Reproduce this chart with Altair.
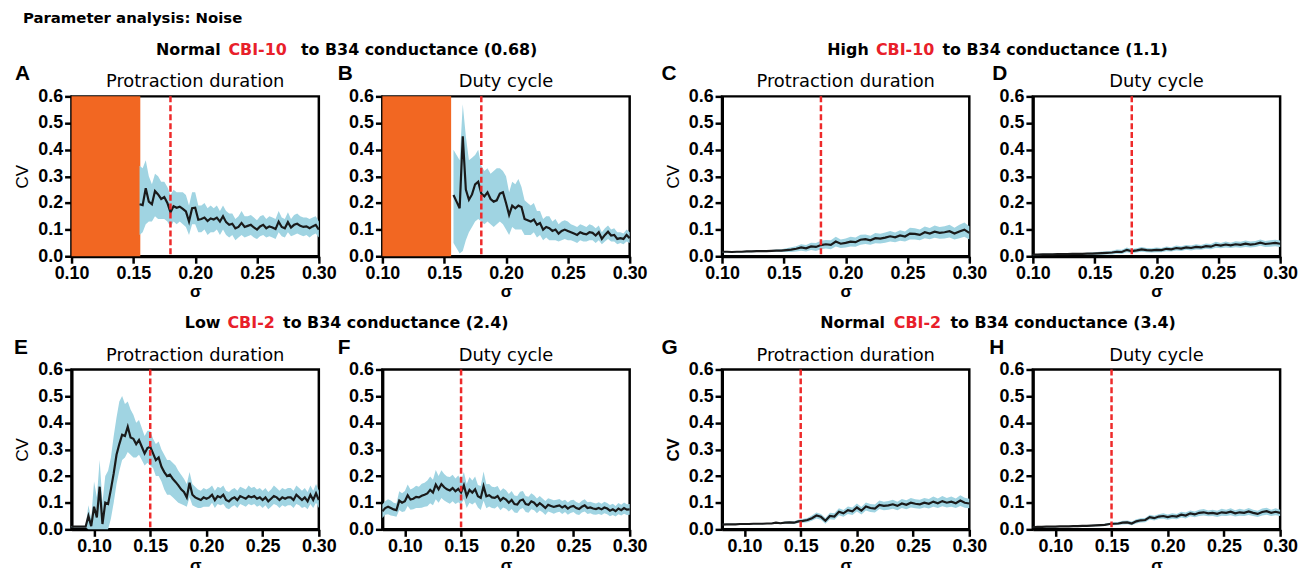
import altair as alt
import pandas as pd

# ------------------------------------------------------------------ data
MAIN_TITLE = "Parameter analysis: Noise"
GROUP_TITLES = [
    ["Normal", "CBI-10", "to B34 conductance (0.68)"],
    ["High", "CBI-10", "to B34 conductance (1.1)"],
    ["Low", "CBI-2", "to B34 conductance (2.4)"],
    ["Normal", "CBI-2", "to B34 conductance (3.4)"],
]
LETTERS = ["A", "B", "C", "D", "E", "F", "G", "H"]
SUBTITLES = ["Protraction duration", "Duty cycle"] * 4
Y_TITLES = ["CV", "", "CV", "", "CV", "", "CV", ""]
X_TITLE = "σ"
X_TICKS = [0.10, 0.15, 0.20, 0.25, 0.30]
Y_TICKS = [0.0, 0.1, 0.2, 0.3, 0.4, 0.5, 0.6]
X_DOMAINS = [[0.10, 0.30]] * 4 + [[0.08, 0.30]] * 4
THRESHOLDS = [0.18, 0.18, 0.18, 0.18, 0.15, 0.15, 0.15, 0.15]
NO_RHYTHM_END = [0.1556, 0.1556]  # orange region (A, B) from 0.10

# sigma grid (start, step) per panel
A_X0, A_STEP = 0.155, 0.0025
B_X0, B_STEP = 0.1575, 0.0025
C_X0, C_STEP = 0.10, 0.004
D_X0, D_STEP = 0.10, 0.004
E_X0, E_STEP = 0.08, 0.0025
F_X0, F_STEP = 0.08, 0.0025
G_X0, G_STEP = 0.08, 0.004
H_X0, H_STEP = 0.08, 0.004

A_MEAN = [0.195, 0.192, 0.255, 0.205, 0.195, 0.245, 0.232, 0.215, 0.222, 0.200,
          0.165, 0.188, 0.182, 0.186, 0.178, 0.168, 0.130, 0.180, 0.182, 0.137,
          0.140, 0.145, 0.132, 0.142, 0.138, 0.145, 0.130, 0.150, 0.128, 0.118,
          0.122, 0.105, 0.110, 0.125, 0.110, 0.114, 0.118, 0.108, 0.100, 0.112,
          0.118, 0.105, 0.112, 0.108, 0.102, 0.130, 0.110, 0.105, 0.128, 0.108,
          0.118, 0.122, 0.114, 0.110, 0.112, 0.105, 0.112, 0.118, 0.100]
A_LO = [0.08, 0.09, 0.12, 0.13, 0.13, 0.15, 0.14, 0.14, 0.14, 0.13,
        0.11, 0.13, 0.12, 0.13, 0.12, 0.11, 0.08, 0.12, 0.12, 0.09,
        0.09, 0.10, 0.08, 0.09, 0.09, 0.10, 0.08, 0.10, 0.08, 0.07,
        0.08, 0.06, 0.07, 0.08, 0.07, 0.075, 0.08, 0.07, 0.065, 0.075,
        0.08, 0.07, 0.075, 0.07, 0.065, 0.09, 0.075, 0.07, 0.09, 0.075,
        0.08, 0.085, 0.08, 0.075, 0.08, 0.07, 0.08, 0.085, 0.07]
A_HI = [0.34, 0.33, 0.36, 0.30, 0.27, 0.31, 0.30, 0.28, 0.28, 0.26,
        0.23, 0.25, 0.24, 0.24, 0.24, 0.23, 0.19, 0.24, 0.24, 0.19,
        0.19, 0.20, 0.18, 0.19, 0.18, 0.19, 0.17, 0.19, 0.17, 0.16,
        0.16, 0.14, 0.15, 0.17, 0.15, 0.15, 0.155, 0.145, 0.135, 0.15,
        0.155, 0.14, 0.15, 0.145, 0.14, 0.17, 0.145, 0.14, 0.165, 0.14,
        0.155, 0.16, 0.15, 0.145, 0.145, 0.14, 0.145, 0.15, 0.13]

B_MEAN = [0.230, 0.205, 0.180, 0.450, 0.250, 0.212, 0.232, 0.270, 0.280, 0.235,
          0.225, 0.240, 0.215, 0.205, 0.210, 0.235, 0.240, 0.200, 0.155, 0.190,
          0.180, 0.190, 0.185, 0.140, 0.135, 0.130, 0.138, 0.118, 0.125, 0.100,
          0.110, 0.105, 0.095, 0.100, 0.085, 0.095, 0.100, 0.095, 0.090, 0.085,
          0.080, 0.090, 0.085, 0.082, 0.090, 0.088, 0.078, 0.090, 0.065, 0.080,
          0.092, 0.078, 0.080, 0.065, 0.068, 0.065, 0.080, 0.068]
B_LO = [0.05, 0.03, 0.01, 0.02, 0.06, 0.09, 0.11, 0.13, 0.14, 0.13,
        0.12, 0.13, 0.12, 0.11, 0.12, 0.13, 0.12, 0.10, 0.08, 0.11,
        0.10, 0.10, 0.10, 0.08, 0.08, 0.08, 0.09, 0.07, 0.08, 0.06,
        0.07, 0.06, 0.06, 0.06, 0.055, 0.06, 0.065, 0.06, 0.06, 0.055,
        0.05, 0.06, 0.055, 0.055, 0.06, 0.06, 0.05, 0.06, 0.045, 0.055,
        0.065, 0.055, 0.055, 0.045, 0.05, 0.045, 0.055, 0.05]
B_HI = [0.40, 0.38, 0.36, 0.57, 0.45, 0.36, 0.37, 0.38, 0.40, 0.34,
        0.32, 0.33, 0.31, 0.32, 0.33, 0.33, 0.32, 0.30, 0.24, 0.28,
        0.27, 0.29, 0.26, 0.21, 0.20, 0.19, 0.20, 0.17, 0.17, 0.14,
        0.15, 0.15, 0.13, 0.14, 0.12, 0.13, 0.135, 0.13, 0.12, 0.115,
        0.11, 0.12, 0.115, 0.11, 0.12, 0.115, 0.105, 0.115, 0.09, 0.105,
        0.115, 0.10, 0.105, 0.09, 0.09, 0.085, 0.10, 0.09]

C_MEAN = [0.017, 0.017, 0.016, 0.017, 0.017, 0.018, 0.018, 0.019, 0.019, 0.019,
          0.020, 0.021, 0.021, 0.023, 0.025, 0.028, 0.033, 0.030, 0.037, 0.035,
          0.042, 0.045, 0.043, 0.055, 0.047, 0.050, 0.055, 0.053, 0.062, 0.064,
          0.060, 0.068, 0.066, 0.070, 0.075, 0.071, 0.078, 0.074, 0.085, 0.084,
          0.080, 0.090, 0.085, 0.092, 0.088, 0.090, 0.094, 0.085, 0.093, 0.100,
          0.088]
C_HW = [0.003, 0.003, 0.003, 0.003, 0.003, 0.003, 0.003, 0.003, 0.003, 0.003,
        0.003, 0.004, 0.005, 0.007, 0.009, 0.010, 0.012, 0.012, 0.014, 0.015,
        0.016, 0.016, 0.017, 0.018, 0.016, 0.017, 0.018, 0.017, 0.019, 0.018,
        0.017, 0.019, 0.018, 0.019, 0.020, 0.018, 0.020, 0.019, 0.022, 0.021,
        0.020, 0.022, 0.021, 0.023, 0.022, 0.023, 0.024, 0.022, 0.025, 0.027,
        0.025]

D_MEAN = [0.006, 0.006, 0.007, 0.007, 0.007, 0.008, 0.008, 0.008, 0.009, 0.009,
          0.009, 0.010, 0.010, 0.011, 0.012, 0.013, 0.014, 0.017, 0.016, 0.024,
          0.019, 0.022, 0.026, 0.023, 0.022, 0.024, 0.023, 0.028, 0.026, 0.031,
          0.029, 0.033, 0.031, 0.035, 0.033, 0.038, 0.036, 0.043, 0.040, 0.044,
          0.041, 0.045, 0.043, 0.047, 0.044, 0.046, 0.051, 0.046, 0.048, 0.050,
          0.047]
D_HW = [0.002, 0.002, 0.002, 0.002, 0.002, 0.002, 0.002, 0.002, 0.002, 0.002,
        0.002, 0.003, 0.004, 0.005, 0.006, 0.006, 0.007, 0.008, 0.008, 0.009,
        0.008, 0.008, 0.009, 0.008, 0.008, 0.009, 0.008, 0.009, 0.008, 0.009,
        0.009, 0.009, 0.009, 0.010, 0.009, 0.010, 0.010, 0.011, 0.010, 0.011,
        0.010, 0.011, 0.011, 0.012, 0.011, 0.011, 0.012, 0.011, 0.012, 0.012,
        0.012]

E_MEAN = [0.010, 0.010, 0.010, 0.010, 0.010, 0.010, 0.050, 0.012, 0.085, 0.045,
          0.160, 0.020, 0.100, 0.095, 0.150, 0.210, 0.280, 0.320, 0.355, 0.350,
          0.385, 0.345, 0.340, 0.320, 0.335, 0.310, 0.285, 0.305, 0.310, 0.285,
          0.260, 0.270, 0.235, 0.215, 0.200, 0.205, 0.190, 0.178, 0.165, 0.150,
          0.140, 0.120, 0.175, 0.130, 0.120, 0.115, 0.110, 0.120, 0.115, 0.120,
          0.130, 0.110, 0.125, 0.120, 0.130, 0.110, 0.105, 0.115, 0.120, 0.110,
          0.125, 0.120, 0.115, 0.125, 0.120, 0.125, 0.115, 0.120, 0.110, 0.120,
          0.105, 0.115, 0.125, 0.120, 0.110, 0.120, 0.115, 0.120, 0.120, 0.110,
          0.130, 0.120, 0.110, 0.120, 0.105, 0.130, 0.110, 0.135, 0.110]
E_LO = [0.007, 0.007, 0.007, 0.007, 0.007, 0.007, 0.000, 0.000, 0.000, 0.000,
        0.000, 0.000, 0.000, 0.000, 0.040, 0.100, 0.170, 0.220, 0.260, 0.270,
        0.290, 0.280, 0.270, 0.270, 0.280, 0.260, 0.240, 0.250, 0.240, 0.230,
        0.200, 0.200, 0.180, 0.150, 0.130, 0.130, 0.120, 0.110, 0.100, 0.095,
        0.090, 0.085, 0.120, 0.090, 0.085, 0.080, 0.080, 0.085, 0.085, 0.085,
        0.100, 0.080, 0.095, 0.090, 0.095, 0.080, 0.075, 0.085, 0.090, 0.080,
        0.095, 0.090, 0.085, 0.095, 0.090, 0.095, 0.085, 0.090, 0.080, 0.090,
        0.075, 0.085, 0.095, 0.090, 0.080, 0.090, 0.085, 0.090, 0.090, 0.080,
        0.095, 0.090, 0.080, 0.085, 0.075, 0.095, 0.080, 0.100, 0.080]
E_HI = [0.013, 0.013, 0.013, 0.013, 0.013, 0.013, 0.090, 0.040, 0.180, 0.120,
        0.260, 0.100, 0.200, 0.220, 0.270, 0.350, 0.420, 0.480, 0.500, 0.470,
        0.480, 0.450, 0.430, 0.400, 0.410, 0.380, 0.350, 0.370, 0.370, 0.340,
        0.320, 0.330, 0.300, 0.280, 0.260, 0.260, 0.250, 0.240, 0.220, 0.205,
        0.190, 0.170, 0.215, 0.170, 0.160, 0.150, 0.145, 0.155, 0.150, 0.155,
        0.165, 0.145, 0.160, 0.155, 0.165, 0.145, 0.140, 0.150, 0.155, 0.145,
        0.160, 0.155, 0.150, 0.165, 0.155, 0.160, 0.150, 0.155, 0.145, 0.155,
        0.140, 0.150, 0.165, 0.155, 0.145, 0.155, 0.150, 0.155, 0.155, 0.145,
        0.165, 0.155, 0.145, 0.155, 0.140, 0.165, 0.145, 0.170, 0.145]

F_MEAN = [0.068, 0.080, 0.085, 0.080, 0.075, 0.072, 0.108, 0.100, 0.106, 0.128,
          0.112, 0.115, 0.122, 0.120, 0.126, 0.130, 0.135, 0.148, 0.138, 0.168,
          0.150, 0.170, 0.158, 0.150, 0.146, 0.155, 0.143, 0.152, 0.138, 0.165,
          0.125, 0.148, 0.138, 0.150, 0.124, 0.118, 0.162, 0.124, 0.128, 0.120,
          0.118, 0.125, 0.108, 0.118, 0.112, 0.100, 0.110, 0.095, 0.093, 0.108,
          0.112, 0.095, 0.092, 0.105, 0.100, 0.088, 0.098, 0.090, 0.080, 0.092,
          0.088, 0.084, 0.087, 0.090, 0.082, 0.088, 0.078, 0.085, 0.088, 0.080,
          0.076, 0.085, 0.090, 0.080, 0.082, 0.078, 0.076, 0.080, 0.075, 0.082,
          0.078, 0.070, 0.075, 0.068, 0.078, 0.072, 0.080, 0.074, 0.075]
F_HW = [0.025, 0.025, 0.028, 0.028, 0.025, 0.025, 0.035, 0.035, 0.038, 0.040,
        0.038, 0.040, 0.042, 0.040, 0.045, 0.045, 0.048, 0.050, 0.048, 0.055,
        0.050, 0.052, 0.050, 0.048, 0.050, 0.050, 0.048, 0.050, 0.045, 0.050,
        0.045, 0.048, 0.045, 0.048, 0.042, 0.045, 0.055, 0.045, 0.042, 0.040,
        0.040, 0.038, 0.036, 0.036, 0.035, 0.033, 0.034, 0.032, 0.032, 0.033,
        0.032, 0.030, 0.030, 0.030, 0.028, 0.028, 0.027, 0.026, 0.026, 0.025,
        0.025, 0.025, 0.024, 0.024, 0.024, 0.023, 0.023, 0.024, 0.023, 0.023,
        0.022, 0.022, 0.023, 0.022, 0.022, 0.022, 0.021, 0.022, 0.021, 0.022,
        0.021, 0.021, 0.021, 0.020, 0.021, 0.020, 0.021, 0.020, 0.020]

G_MEAN = [0.018, 0.019, 0.019, 0.019, 0.020, 0.020, 0.020, 0.021, 0.021, 0.021,
          0.022, 0.022, 0.025, 0.023, 0.025, 0.026, 0.025, 0.030, 0.032, 0.035,
          0.042, 0.052, 0.047, 0.032, 0.050, 0.048, 0.066, 0.060, 0.072, 0.068,
          0.082, 0.070, 0.086, 0.080, 0.078, 0.092, 0.088, 0.090, 0.094, 0.088,
          0.097, 0.092, 0.100, 0.096, 0.094, 0.100, 0.096, 0.104, 0.098, 0.106,
          0.100, 0.104, 0.098, 0.108, 0.100, 0.097]
G_HW = [0.002, 0.002, 0.002, 0.002, 0.002, 0.002, 0.002, 0.002, 0.002, 0.002,
        0.002, 0.002, 0.003, 0.003, 0.004, 0.004, 0.005, 0.006, 0.007, 0.008,
        0.010, 0.011, 0.011, 0.011, 0.012, 0.012, 0.013, 0.013, 0.014, 0.014,
        0.015, 0.014, 0.015, 0.015, 0.015, 0.016, 0.016, 0.016, 0.017, 0.016,
        0.017, 0.017, 0.018, 0.017, 0.017, 0.018, 0.018, 0.019, 0.018, 0.019,
        0.018, 0.019, 0.018, 0.020, 0.019, 0.018]

H_MEAN = [0.008, 0.009, 0.009, 0.010, 0.010, 0.010, 0.011, 0.011, 0.011, 0.012,
          0.012, 0.013, 0.013, 0.014, 0.015, 0.016, 0.017, 0.020, 0.021, 0.022,
          0.025, 0.026, 0.022, 0.030, 0.034, 0.035, 0.046, 0.042, 0.048, 0.050,
          0.046, 0.050, 0.048, 0.055, 0.052, 0.060, 0.056, 0.062, 0.064, 0.060,
          0.062, 0.058, 0.064, 0.062, 0.066, 0.060, 0.064, 0.062, 0.067, 0.062,
          0.058, 0.065, 0.068, 0.062, 0.066, 0.062]
H_HW = [0.002, 0.002, 0.002, 0.002, 0.002, 0.002, 0.002, 0.002, 0.002, 0.002,
        0.002, 0.002, 0.002, 0.003, 0.003, 0.004, 0.004, 0.005, 0.006, 0.006,
        0.007, 0.007, 0.007, 0.008, 0.008, 0.008, 0.009, 0.009, 0.009, 0.010,
        0.010, 0.010, 0.010, 0.011, 0.011, 0.011, 0.011, 0.012, 0.012, 0.011,
        0.012, 0.012, 0.013, 0.012, 0.013, 0.012, 0.013, 0.012, 0.013, 0.012,
        0.012, 0.013, 0.013, 0.012, 0.013, 0.012]

# ------------------------------------------------------------------ style / layout
W, H = 249, 161
GAP_IN, GAP_OUT, ROW_GAP = 64, 93, 114
ORANGE = "#F26722"
BAND = "#A0D4E2"
LINE = "#1A1A1A"
RED = "#EE2A2A"
TXT_FONT = "DejaVu Sans"
AX_FONT = "Liberation Sans"

LETTER_X = [-57, -45, -61, -41, -58, -45, -61, -44]
GROUP_X = [[85, 158, 231], [106, 155, 222], [114, 157, 213], [99, 173, 230]]


def band_from_hw(mean, hw):
    lo = [max(m - h, 0.0) for m, h in zip(mean, hw)]
    hi = [m + h for m, h in zip(mean, hw)]
    return lo, hi


C_LO, C_HI = band_from_hw(C_MEAN, C_HW)
D_LO, D_HI = band_from_hw(D_MEAN, D_HW)
F_LO, F_HI = band_from_hw(F_MEAN, F_HW)
G_LO, G_HI = band_from_hw(G_MEAN, G_HW)
H_LO, H_HI = band_from_hw(H_MEAN, H_HW)

SERIES = [
    (A_X0, A_STEP, A_MEAN, A_LO, A_HI),
    (B_X0, B_STEP, B_MEAN, B_LO, B_HI),
    (C_X0, C_STEP, C_MEAN, C_LO, C_HI),
    (D_X0, D_STEP, D_MEAN, D_LO, D_HI),
    (E_X0, E_STEP, E_MEAN, E_LO, E_HI),
    (F_X0, F_STEP, F_MEAN, F_LO, F_HI),
    (G_X0, G_STEP, G_MEAN, G_LO, G_HI),
    (H_X0, H_STEP, H_MEAN, H_LO, H_HI),
]


def text_layer(txt, x, y, size, weight="normal", color="black", align="left", font=TXT_FONT):
    df = pd.DataFrame({"t": [txt]})
    return alt.Chart(df).mark_text(
        font=font, fontSize=size, fontWeight=weight, color=color,
        align=align, baseline="alphabetic"
    ).encode(x=alt.value(x), y=alt.value(y), text="t:N")


def panel(k):
    x0, step, mean, lo, hi = SERIES[k]
    df = pd.DataFrame({
        "sigma": [round(x0 + i * step, 5) for i in range(len(mean))],
        "cv": mean, "lo": lo, "hi": hi,
    })
    xs = alt.Scale(domain=X_DOMAINS[k], nice=False, zero=False)
    ys = alt.Scale(domain=[0, 0.6], nice=False)
    xaxis = alt.Axis(values=X_TICKS, format=".2f", labelFlush=False, labelOverlap=False)
    yaxis = alt.Axis(values=Y_TICKS, format=".1f", labelFlush=False, labelOverlap=False,
                     titleFontWeight="bold" if k == 6 else "normal")
    ytitle = Y_TITLES[k] if Y_TITLES[k] else None

    def X(field):
        return alt.X(field, scale=xs, axis=xaxis, title=X_TITLE)

    def Y(field):
        return alt.Y(field, scale=ys, axis=yaxis, title=ytitle)

    layers = []
    if k < 2:
        odf = pd.DataFrame({"a": [X_DOMAINS[k][0]], "b": [NO_RHYTHM_END[k]]})
        layers.append(alt.Chart(odf).mark_rect(color=ORANGE).encode(
            x=X("a:Q"), x2="b:Q", y=alt.value(0), y2=alt.value(H)))
    layers.append(alt.Chart(df).mark_area(color=BAND, opacity=1).encode(
        x=X("sigma:Q"), y=Y("lo:Q"), y2="hi:Q"))
    layers.append(alt.Chart(df).mark_line(color=LINE, strokeWidth=2.2).encode(
        x=X("sigma:Q"), y=Y("cv:Q")))
    rdf = pd.DataFrame({"s": [THRESHOLDS[k]]})
    layers.append(alt.Chart(rdf).mark_rule(color=RED, strokeWidth=2.5, strokeDash=[6, 3]).encode(
        x=X("s:Q")))

    layers.append(text_layer(LETTERS[k], LETTER_X[k], -16, 21, "bold", font=AX_FONT))
    layers.append(text_layer(SUBTITLES[k], W / 2, -9, 18, align="center"))
    if k % 2 == 0:
        g = k // 2
        pieces = GROUP_TITLES[g]
        cols = ["black", "#E8202A", "black"]
        for p, px, c in zip(pieces, GROUP_X[g], cols):
            layers.append(text_layer(p, px, -42, 16, "bold", color=c))
    if k == 0:
        layers.append(text_layer(MAIN_TITLE, -49, -73.5, 15, "bold"))
    return alt.layer(*layers).properties(width=W, height=H)


def spacer(w):
    return alt.Chart(pd.DataFrame({"t": [""]})).mark_text().encode(
        text="t:N"
    ).properties(width=w, height=H,
                 view=alt.ViewBackground(stroke="transparent", strokeWidth=0))


P = [panel(k) for k in range(8)]
cells = []
for r in range(2):
    a, b, c, d = P[4 * r: 4 * r + 4]
    cells += [a, spacer(GAP_IN), b, spacer(GAP_OUT), c, spacer(GAP_IN), d]

chart = alt.concat(
    *cells, columns=7, spacing={"row": ROW_GAP, "column": 0}, bounds="flush"
).properties(
    padding={"left": 4, "top": 0, "right": 0, "bottom": 0},
    background="white",
).configure_view(
    stroke="black", strokeWidth=2.5
).configure_axis(
    grid=False,
    domainColor="black", domainWidth=3,
    tickColor="black", tickWidth=2.5, tickSize=7,
    labelFont=AX_FONT, labelFontSize=18, labelFontWeight="bold", labelColor="black",
    labelPadding=2,
    titleFont=AX_FONT, titleFontSize=17, titleColor="black",
).configure_axisX(
    titleFontWeight="bold", titlePadding=2, labelPadding=1,
).configure_axisY(
    titlePadding=6,
)

chart.save("out.html", embed_options={"renderer": "svg", "actions": False})
